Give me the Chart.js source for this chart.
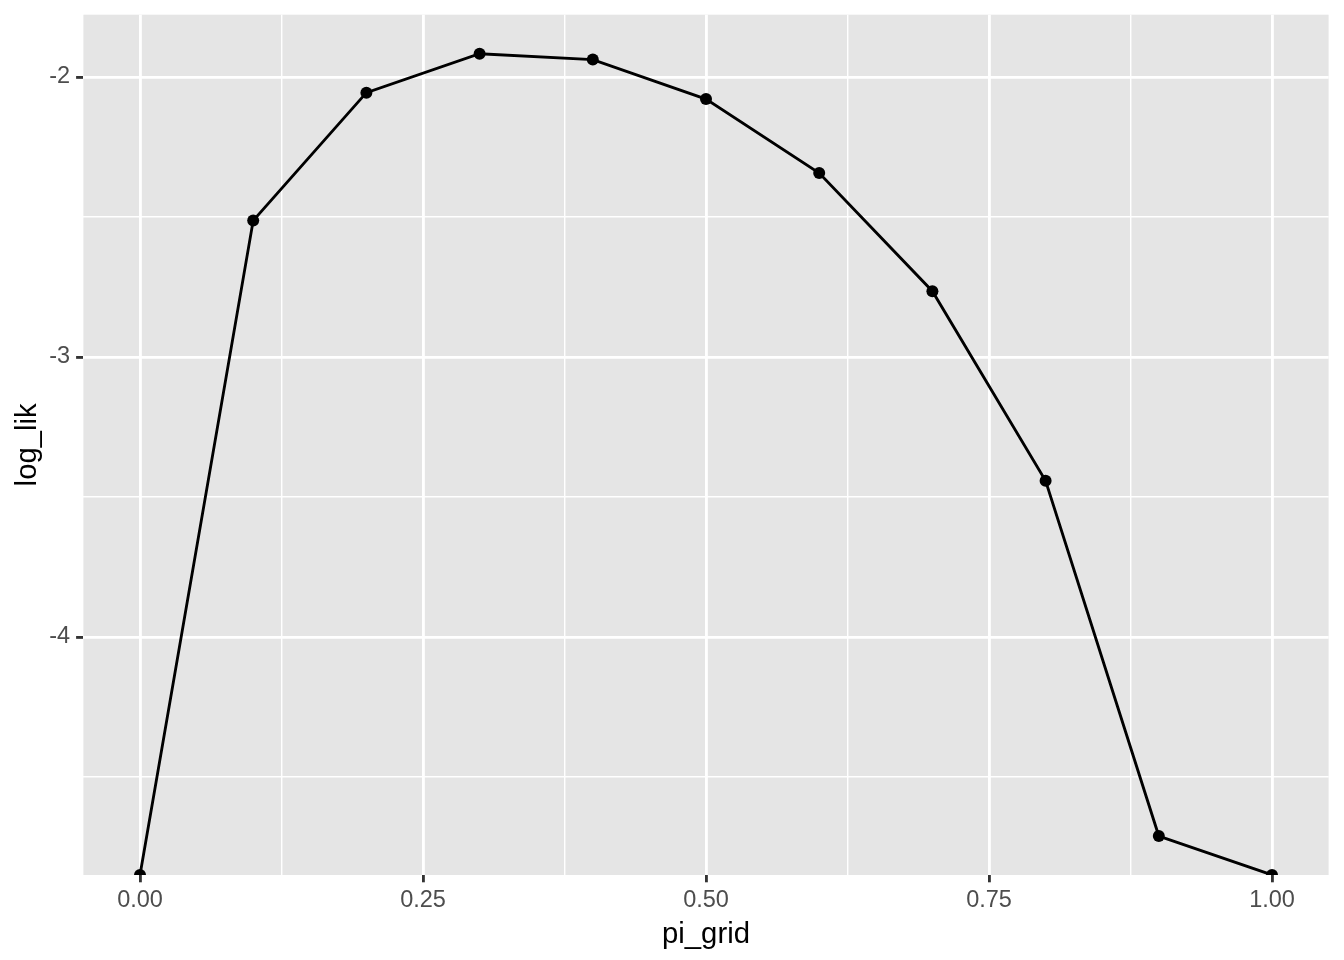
<!DOCTYPE html>
<html>
<head>
<meta charset="utf-8">
<script src="https://cdn.jsdelivr.net/npm/chart.js@4/dist/chart.umd.min.js"></script>
<style>
  html, body { margin: 0; padding: 0; background: #ffffff; }
  #wrap { width: 1344px; height: 960px; position: relative; }
</style>
</head>
<body>
<div id="wrap"><canvas id="c"></canvas></div>
<script>
// ---- data ----
const piGrid = [0.0, 0.1, 0.2, 0.3, 0.4, 0.5, 0.6, 0.7, 0.8, 0.9, 1.0];
// ends are -Inf in the original: they sit on the bottom edge of the panel
const logLik = [-4.850, -2.513, -2.056, -1.917, -1.938, -2.079, -2.343, -2.765, -3.442, -4.711, -4.850];

const xMajorTicks = [0.00, 0.25, 0.50, 0.75, 1.00];
const xMinorTicks = [0.125, 0.375, 0.625, 0.875];
const yMajorTicks = [-2, -3, -4];
const yMinorTicks = [-2.5, -3.5, -4.5];

const xRange = [-0.05, 1.05];
const yRange = [-4.8502, -1.7776];

const xTitle = 'pi_grid';
const yTitle = 'log_lik';

// ---- styles ----
const PANEL_BG = '#E5E5E5';
const MAJOR_W = 2.85, MINOR_W = 1.42;
const TICK_COLOR = '#333333';
const LABEL_COLOR = '#4D4D4D';
const FONT = '"Liberation Sans", Arial, Helvetica, sans-serif';

const isMajorIn = (list) => (v) => list.some(m => Math.abs(m - v) < 1e-9);
const xIsMajor = isMajorIn(xMajorTicks);
const yIsMajor = isMajorIn(yMajorTicks);

const panelBg = {
  id: 'panelBg',
  beforeDraw(chart) {
    const {ctx, chartArea: a} = chart;
    ctx.save();
    ctx.fillStyle = PANEL_BG;
    ctx.fillRect(a.left, a.top, a.right - a.left, a.bottom - a.top);
    ctx.restore();
  }
};

const zeroPad = (s) => { s.paddingTop = 0; s.paddingBottom = 0; s.paddingLeft = 0; s.paddingRight = 0; };

const points = piGrid.map((x, i) => ({x: x, y: logLik[i]}));

new Chart(document.getElementById('c'), {
  type: 'scatter',
  data: {
    datasets: [{
      data: points,
      showLine: true,
      borderColor: '#000000',
      borderWidth: 2.85,
      tension: 0,
      pointRadius: 6,
      pointHoverRadius: 6,
      pointBorderWidth: 0,
      pointBackgroundColor: '#000000',
      clip: 0
    }]
  },
  options: {
    responsive: true,
    maintainAspectRatio: false,
    animation: false,
    devicePixelRatio: 1,
    layout: { padding: { top: 14.7, right: 15.4, left: 0, bottom: 0 } },
    plugins: { legend: { display: false }, tooltip: { enabled: false } },
    scales: {
      x: {
        type: 'linear',
        min: xRange[0], max: xRange[1],
        afterBuildTicks: (s) => { s.ticks = xMajorTicks.concat(xMinorTicks).sort((a,b)=>a-b).map(v => ({value: v})); },
        afterFit: (s) => { s.height = 85; zeroPad(s); },
        border: { display: false },
        grid: {
          color: '#FFFFFF',
          lineWidth: (c) => xIsMajor(c.tick.value) ? MAJOR_W : MINOR_W,
          drawTicks: true,
          tickLength: 7.3,
          tickWidth: MAJOR_W,
          tickColor: (c) => xIsMajor(c.tick.value) ? TICK_COLOR : 'transparent'
        },
        ticks: {
          autoSkip: false, maxRotation: 0, minRotation: 0,
          padding: 4,
          color: LABEL_COLOR,
          font: { family: FONT, size: 23.5 },
          callback: (v) => xIsMajor(v) ? Number(v).toFixed(2) : ''
        },
        title: {
          display: true, text: xTitle, color: '#000000',
          font: { family: FONT, size: 29.3 },
          padding: { top: 0, bottom: 8 }
        }
      },
      y: {
        type: 'linear',
        min: yRange[0], max: yRange[1],
        afterBuildTicks: (s) => { s.ticks = yMajorTicks.concat(yMinorTicks).sort((a,b)=>a-b).map(v => ({value: v})); },
        afterFit: (s) => { s.width = 83.4; zeroPad(s); },
        border: { display: false },
        grid: {
          color: '#FFFFFF',
          lineWidth: (c) => yIsMajor(c.tick.value) ? MAJOR_W : MINOR_W,
          drawTicks: true,
          tickLength: 7.3,
          tickWidth: MAJOR_W,
          tickColor: (c) => yIsMajor(c.tick.value) ? TICK_COLOR : 'transparent'
        },
        ticks: {
          autoSkip: false,
          padding: 6,
          color: LABEL_COLOR,
          font: { family: FONT, size: 23.5 },
          callback: (v) => yIsMajor(v) ? String(v) : ''
        },
        title: {
          display: true, text: yTitle, color: '#000000',
          font: { family: FONT, size: 29.3 },
          padding: { top: 10, bottom: 0 }
        }
      }
    }
  },
  plugins: [panelBg]
});
</script>
</body>
</html>
